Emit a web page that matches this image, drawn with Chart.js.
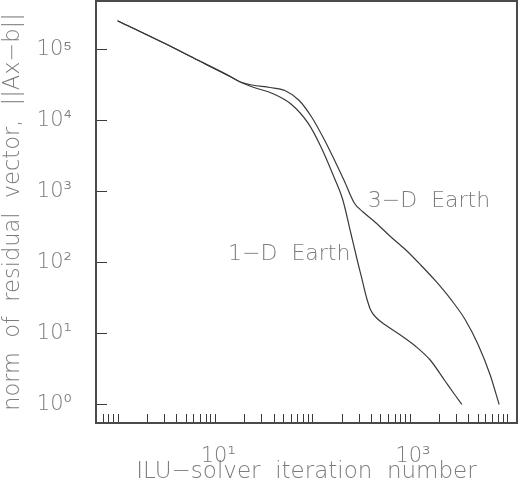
<!DOCTYPE html>
<html>
<head>
<meta charset="utf-8">
<script src="https://cdn.jsdelivr.net/npm/chart.js@4.4.1/dist/chart.umd.min.js"></script>
<style>
  html, body { margin: 0; padding: 0; background: #fff; }
  #wrap { width: 520px; height: 488px; position: relative; }
</style>
</head>
<body>
<div id="wrap"><canvas id="residualChart"></canvas></div>
<script>
// residual norm vs. iteration
const iter3D = [1, 3.03, 6.62, 14.5, 18.2, 24.1, 36.7, 52.2, 72.5, 98.4, 133.5, 168.8, 213.5, 270, 333, 452, 643, 915, 1301, 1850, 2630, 3740, 5075, 6725, 8310];
const res3D = [252700, 121500, 70700, 41100, 34680, 31440, 29000, 26300, 19330, 11140, 5290, 2765, 1400, 686, 513, 359, 228, 149.6, 92, 54.8, 30.6, 15.5, 6.88, 2.6, 1];

const iter1D = [1, 3.03, 6.62, 14.5, 18.2, 25.2, 38.5, 60.8, 90.6, 122.9, 166.9, 206, 248.6, 286.2, 321.8, 361.9, 397.5, 457.8, 565.4, 804, 1143, 1626, 2312, 2924, 3445];
const res1D = [252700, 121500, 70700, 41100, 34680, 29000, 24090, 16870, 9115, 4213, 1594, 756, 259.5, 115.4, 60.4, 31.6, 21.4, 16.5, 13.15, 9.51, 6.66, 4.23, 2.14, 1.36, 1];

const curveNames = ['3\u2212D  Earth', '1\u2212D  Earth'];
const curveNameX = [1581, 58];
const curveNameY = [737, 130.6];

// axis ticks
const xMantissas = [1, 2, 3, 4, 5, 6, 7, 8, 9];
const xDecades = [0.1, 1, 10, 100, 1000, 10000];
const xLabelled = [10, 1000];
const xLabelText = [' 10\u00b9', ' 10\u00b3'];
const yLabelled = [1, 10, 100, 1000, 10000, 100000];
const yLabelText = ['10\u2070', '10\u00b9', '10\u00b2', '10\u00b3', '10\u2074', '10\u2075'];

const xMin = 0.648, xMax = 12680;
const yMin = 0.549, yMax = 478600;

const xTickMarks = [];
xDecades.forEach(d => xMantissas.forEach(m => {
    const v = m * d;
    if (v > xMin && v < xMax) xTickMarks.push(v);
}));

const FONT = "'DejaVu Sans', sans-serif";
const INK = '#3a3a3a';
const TEXT = '#7c7c7c';

// box + inward ticks + curve names
const frame = {
    id: 'frame',
    afterDraw(chart) {
        const ctx = chart.ctx;
        const a = chart.chartArea;
        const xs = chart.scales.x;
        const ys = chart.scales.y;
        ctx.save();
        ctx.strokeStyle = INK;
        ctx.lineWidth = 1;
        ctx.beginPath();
        xTickMarks.forEach(v => {
            const px = Math.round(xs.getPixelForValue(v)) + 0.5;
            ctx.moveTo(px, a.bottom);
            ctx.lineTo(px, a.bottom - 9);
        });
        yLabelled.forEach(v => {
            const py = Math.round(ys.getPixelForValue(v)) + 0.5;
            ctx.moveTo(a.left, py);
            ctx.lineTo(a.left + 11, py);
        });
        ctx.stroke();

        ctx.strokeStyle = '#4a4a4a';
        ctx.lineWidth = 2;
        ctx.strokeRect(a.left, a.top, a.right - a.left, a.bottom - a.top);

        ctx.fillStyle = TEXT;
        ctx.font = '200 22px ' + FONT;
        ctx.textAlign = 'center';
        ctx.textBaseline = 'middle';
        curveNames.forEach((t, i) => {
            ctx.fillText(t, xs.getPixelForValue(curveNameX[i]), ys.getPixelForValue(curveNameY[i]));
        });
        ctx.restore();
    }
};

const residualChart = new Chart(document.getElementById('residualChart'), {
    type: 'scatter',
    data: {
        datasets: [{
            label: '3-D Earth',
            data: iter3D.map((x, i) => ({ x: x, y: res3D[i] })),
            showLine: true,
            borderColor: INK,
            borderWidth: 1.2,
            pointRadius: 0,
            cubicInterpolationMode: 'monotone'
        }, {
            label: '1-D Earth',
            data: iter1D.map((x, i) => ({ x: x, y: res1D[i] })),
            showLine: true,
            borderColor: INK,
            borderWidth: 1.2,
            pointRadius: 0,
            cubicInterpolationMode: 'monotone'
        }]
    },
    options: {
        responsive: true,
        maintainAspectRatio: false,
        animation: false,
        layout: { padding: { top: 1, right: 3, left: 0, bottom: 0 } },
        plugins: {
            legend: { display: false },
            tooltip: { enabled: false }
        },
        scales: {
            x: {
                type: 'logarithmic',
                position: 'bottom',
                min: xMin,
                max: xMax,
                grid: { display: false },
                border: { display: false },
                afterBuildTicks: scale => { scale.ticks = xLabelled.map(v => ({ value: v })); },
                afterFit: scale => {
                    scale.height = 65;
                    scale.paddingLeft = 0;
                    scale.paddingRight = 0;
                },
                ticks: {
                    autoSkip: false,
                    maxRotation: 0,
                    padding: 13,
                    color: TEXT,
                    font: { family: FONT, size: 21, weight: 200 },
                    callback: (v, i) => xLabelText[i]
                },
                title: {
                    display: true,
                    text: 'ILU\u2212solver  iteration  number',
                    color: TEXT,
                    font: { family: FONT, size: 23, weight: 200 },
                    padding: { top: 0, bottom: 2 }
                }
            },
            y: {
                type: 'logarithmic',
                position: 'left',
                min: yMin,
                max: yMax,
                grid: { display: false },
                border: { display: false },
                afterBuildTicks: scale => { scale.ticks = yLabelled.map(v => ({ value: v })); },
                afterFit: scale => {
                    scale.width = 96;
                    scale.paddingTop = 0;
                    scale.paddingBottom = 0;
                },
                ticks: {
                    autoSkip: false,
                    padding: 16,
                    color: TEXT,
                    font: { family: FONT, size: 21, weight: 200 },
                    callback: (v, i) => yLabelText[i]
                },
                title: {
                    display: true,
                    text: 'norm  of  residual  vector,  ||Ax\u2212b||',
                    color: TEXT,
                    font: { family: FONT, size: 22.5, weight: 200 },
                    padding: { top: 0, bottom: 0 }
                }
            }
        }
    },
    plugins: [frame]
});
</script>
</body>
</html>
